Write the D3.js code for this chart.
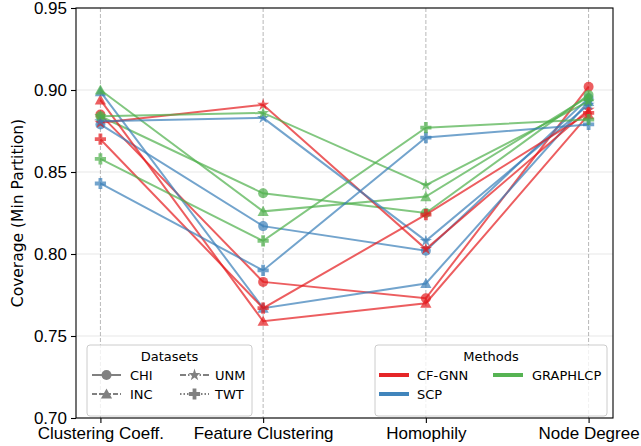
<!DOCTYPE html>
<html>
<head>
<meta charset="utf-8">
<script src="https://cdn.jsdelivr.net/npm/d3@7"></script>
<style>
    body { margin: 0; background: #fff; }
    svg { font-family: "DejaVu Sans", sans-serif; }
</style>
</head>
<body>
<div id="chart"></div>
<script>
// categories on the x axis
var categories = ["Clustering Coeff.", "Feature Clustering", "Homophily", "Node Degree"];
var methods = ["CF-GNN", "SCP", "GRAPHLCP"];
var datasets = ["CHI", "INC", "UNM", "TWT"];
var yTicks = [0.70, 0.75, 0.80, 0.85, 0.90, 0.95];

// coverage values, one array per method, one row per dataset (CHI, INC, UNM, TWT)
var cfgnnValues = [
    [0.885, 0.783, 0.773, 0.902],
    [0.894, 0.759, 0.770, 0.885],
    [0.880, 0.891, 0.803, 0.888],
    [0.870, 0.767, 0.824, 0.886]
];
var scpValues = [
    [0.879, 0.817, 0.802, 0.895],
    [0.899, 0.767, 0.782, 0.893],
    [0.881, 0.883, 0.808, 0.891],
    [0.843, 0.790, 0.871, 0.879]
];
var graphlcpValues = [
    [0.884, 0.837, 0.825, 0.897],
    [0.900, 0.826, 0.835, 0.896],
    [0.884, 0.886, 0.842, 0.893],
    [0.858, 0.808, 0.877, 0.882]
];

function main() {
    var W = 641, H = 446;
    var margin = { top: 8, right: 28, bottom: 28, left: 76 };
    var width = W - margin.left - margin.right;
    var height = H - margin.top - margin.bottom;

    var colors = { "CF-GNN": "#e41a1c", "SCP": "#377eb8", "GRAPHLCP": "#4daf4a" };
    var valuesByMethod = { "CF-GNN": cfgnnValues, "SCP": scpValues, "GRAPHLCP": graphlcpValues };

    // marker shapes like matplotlib o ^ * P
    var circleSym = { draw: function (c) { c.moveTo(5, 0); c.arc(0, 0, 5, 0, 2 * Math.PI); } };
    var triSym = { draw: function (c) { c.moveTo(0, -5.6); c.lineTo(5.6, 4.6); c.lineTo(-5.6, 4.6); c.closePath(); } };
    var starSym = { draw: function (c) {
        var R = 6.4, r = R * 0.381966;
        for (var i = 0; i < 10; i++) {
            var a = -Math.PI / 2 + i * Math.PI / 5, rr = i % 2 ? r : R;
            if (i == 0) c.moveTo(rr * Math.cos(a), rr * Math.sin(a)); else c.lineTo(rr * Math.cos(a), rr * Math.sin(a));
        }
        c.closePath();
    } };
    var plusSym = { draw: function (c) {
        var a = 1.9, b = 5.6;
        c.moveTo(-a, -b); c.lineTo(a, -b); c.lineTo(a, -a); c.lineTo(b, -a); c.lineTo(b, a); c.lineTo(a, a);
        c.lineTo(a, b); c.lineTo(-a, b); c.lineTo(-a, a); c.lineTo(-b, a); c.lineTo(-b, -a); c.lineTo(-a, -a); c.closePath();
    } };
    var shapes = { "CHI": circleSym, "INC": triSym, "UNM": starSym, "TWT": plusSym };
    var dashes = { "CHI": null, "INC": "5,2", "UNM": "6,2,1.5,2", "TWT": "1.5,2" };

    var svg = d3.select("#chart")
        .append("svg")
        .attr("width", W)
        .attr("height", H)
        .append("g")
        .attr("transform", "translate(" + margin.left + "," + margin.top + ")");

    var x = d3.scalePoint()
        .domain(categories)
        .range([0, width])
        .padding(0.15);
    var y = d3.scaleLinear()
        .domain([0.70, 0.95])
        .range([height, 0]);

    // grid
    svg.selectAll(".hgrid")
        .data(yTicks)
        .enter()
        .append("line")
        .attr("x1", 0).attr("x2", width)
        .attr("y1", function (d) { return y(d); })
        .attr("y2", function (d) { return y(d); })
        .attr("stroke", "#b0b0b0")
        .attr("stroke-opacity", 0.3)
        .attr("stroke-width", 1);
    svg.selectAll(".vgrid")
        .data(categories)
        .enter()
        .append("line")
        .attr("x1", function (d) { return x(d); })
        .attr("x2", function (d) { return x(d); })
        .attr("y1", 0).attr("y2", height)
        .attr("stroke", "#9a9a9a")
        .attr("stroke-opacity", 0.7)
        .attr("stroke-dasharray", "4,2")
        .attr("stroke-width", 1);

    // lines and markers, dataset by dataset
    var line = d3.line()
        .x(function (d, i) { return x(categories[i]); })
        .y(function (d) { return y(d); });
    datasets.forEach(function (ds, di) {
        methods.forEach(function (m) {
            var vals = valuesByMethod[m][di];
            svg.append("path")
                .datum(vals)
                .attr("d", line)
                .attr("fill", "none")
                .attr("stroke", colors[m])
                .attr("stroke-opacity", 0.7)
                .attr("stroke-width", 2);
            svg.selectAll(null)
                .data(vals)
                .enter()
                .append("path")
                .attr("d", d3.symbol().type(shapes[ds]))
                .attr("transform", function (d, i) { return "translate(" + x(categories[i]) + "," + y(d) + ")"; })
                .attr("fill", colors[m])
                .attr("fill-opacity", 0.7);
        });
    });

    // axes
    var xAxis = svg.append("g")
        .attr("transform", "translate(0," + height + ")")
        .call(d3.axisBottom(x).tickSize(5).tickPadding(4));
    xAxis.selectAll("text").attr("font-size", "17px").attr("fill", "#000");
    var yAxis = svg.append("g")
        .call(d3.axisLeft(y).tickValues(yTicks).tickFormat(d3.format(".2f")).tickSize(5).tickPadding(4));
    yAxis.selectAll("text").attr("font-size", "17px").attr("fill", "#000");
    svg.selectAll(".domain").remove();
    svg.selectAll(".tick line").attr("stroke", "#000").attr("stroke-width", 1.1);

    svg.append("rect")
        .attr("width", width).attr("height", height)
        .attr("fill", "none")
        .attr("stroke", "#000")
        .attr("stroke-width", 1.1);

    svg.append("text")
        .attr("transform", "rotate(-90)")
        .attr("x", -height / 2)
        .attr("y", -53)
        .attr("text-anchor", "middle")
        .attr("font-size", "15.5px")
        .text("Coverage (Min Partition)");

    // legends
    function legendBox(x0, y0, w, h, title) {
        var g = svg.append("g").attr("transform", "translate(" + (x0 - margin.left) + "," + (y0 - margin.top) + ")");
        g.append("rect")
            .attr("width", w).attr("height", h).attr("rx", 3)
            .attr("fill", "#fff").attr("fill-opacity", 0.8)
            .attr("stroke", "#cccccc");
        g.append("text")
            .attr("x", w / 2).attr("y", 16)
            .attr("text-anchor", "middle")
            .attr("font-size", "13px")
            .text(title);
        return g;
    }

    var dg = legendBox(87, 345, 165, 71, "Datasets");
    datasets.forEach(function (ds, i) {
        var col = Math.floor(i / 2), row = i % 2;
        var hx = col == 0 ? 5 : 93, tx = col == 0 ? 43 : 128;
        var cy = 30 + row * 19;
        dg.append("line")
            .attr("x1", hx).attr("x2", hx + 29)
            .attr("y1", cy).attr("y2", cy)
            .attr("stroke", "#808080").attr("stroke-width", 2)
            .attr("stroke-dasharray", dashes[ds]);
        dg.append("path")
            .attr("d", d3.symbol().type(shapes[ds]))
            .attr("transform", "translate(" + (hx + 14.5) + "," + cy + ")")
            .attr("fill", "#808080");
        dg.append("text")
            .attr("x", tx).attr("y", cy + 5)
            .attr("font-size", "13px")
            .text(ds);
    });

    var mg = legendBox(375, 345, 232, 71, "Methods");
    methods.forEach(function (m, i) {
        var col = i < 2 ? 0 : 1, row = i < 2 ? i : 0;
        var hx = col == 0 ? 4 : 118, tx = col == 0 ? 42 : 157;
        var cy = 30 + row * 19;
        mg.append("line")
            .attr("x1", hx).attr("x2", hx + 30)
            .attr("y1", cy).attr("y2", cy)
            .attr("stroke", colors[m]).attr("stroke-width", 4)
            .attr("stroke-opacity", 0.95);
        mg.append("text")
            .attr("x", tx).attr("y", cy + 5)
            .attr("font-size", "13px")
            .text(m);
    });
}
window.addEventListener('load', main);
</script>
</body>
</html>
